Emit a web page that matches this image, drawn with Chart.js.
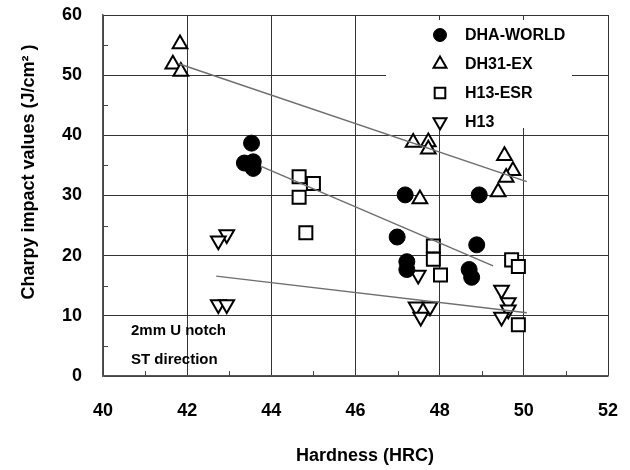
<!DOCTYPE html>
<html>
<head>
<meta charset="utf-8">
<script src="https://cdn.jsdelivr.net/npm/chart.js@4.4.1/dist/chart.umd.min.js"></script>
<style>
  html, body { margin: 0; padding: 0; background: #fff; }
  #wrap { width: 630px; height: 470px; }
</style>
</head>
<body>
<div id="wrap"><canvas id="chart"></canvas></div>
<script>
// values (hardness HRC, impact J/cm2)
const dhaWorldX = [43.53, 43.36, 43.57, 43.57, 47.18, 46.99, 47.22, 47.22, 48.94, 48.88, 48.70, 48.76];
const dhaWorldY = [38.7, 35.4, 35.6, 34.5, 30.1, 23.1, 19.0, 17.7, 30.1, 21.8, 17.7, 16.4];

const dh31X = [41.83, 41.66, 41.85, 47.37, 47.73, 47.73, 47.53, 49.54, 49.74, 49.58, 49.39];
const dh31Y = [55.2, 51.8, 50.6, 38.8, 38.9, 37.7, 29.4, 36.6, 34.1, 33.0, 30.6];

const h13EsrX = [44.66, 45.00, 44.66, 44.82, 47.85, 47.85, 48.02, 49.71, 49.87, 49.87];
const h13EsrY = [33.1, 32.0, 29.7, 23.8, 21.6, 19.4, 16.8, 19.3, 18.2, 8.5];

const h13X = [42.94, 42.74, 42.74, 42.94, 47.49, 47.44, 47.77, 47.55, 49.47, 49.63, 49.63, 49.47];
const h13Y = [23.5, 22.5, 11.9, 11.9, 16.8, 11.5, 11.5, 9.8, 14.3, 12.2, 11.0, 9.8];

// trend line end points
const trendDh31X = [41.8, 50.07];
const trendDh31Y = [51.9, 32.3];
const trendDhaX = [43.77, 49.27];
const trendDhaY = [34.8, 18.3];
const trendH13X = [42.69, 50.07];
const trendH13Y = [16.6, 10.5];

const xTicks = [40, 42, 44, 46, 48, 50, 52];
const yTicks = [0, 10, 20, 30, 40, 50, 60];
const xMinor = [41, 43, 45, 47, 49, 51];
const yMinor = [5, 15, 25, 35, 45, 55];

const seriesNames = ['DHA-WORLD', 'DH31-EX', 'H13-ESR', 'H13'];
const noteLines = ['2mm U notch', 'ST direction'];
const xTitle = 'Hardness (HRC)';
const yTitle = 'Charpy impact values (J/cm² )';

const FONT = '"Liberation Sans", Arial, sans-serif';

const pts = (xs, ys) => xs.map((x, i) => ({ x: x, y: ys[i] }));

const markerStyles = [
  { pointStyle: 'circle', radius: 8, rotation: 0, backgroundColor: '#000', borderColor: '#000', borderWidth: 1 },
  { pointStyle: 'triangle', radius: 8.5, rotation: 0, backgroundColor: '#fff', borderColor: '#000', borderWidth: 2 },
  { pointStyle: 'rect', radius: 9.2, rotation: 0, backgroundColor: '#fff', borderColor: '#000', borderWidth: 2 },
  { pointStyle: 'triangle', radius: 8.5, rotation: 180, backgroundColor: '#fff', borderColor: '#000', borderWidth: 2 }
];

const scatterSet = (label, data, m, order) => ({
  type: 'scatter',
  label: label,
  data: data,
  order: order,
  pointStyle: m.pointStyle,
  pointRadius: m.radius,
  pointHoverRadius: m.radius,
  pointRotation: m.rotation,
  pointBackgroundColor: m.backgroundColor,
  pointBorderColor: m.borderColor,
  pointBorderWidth: m.borderWidth,
  showLine: false
});

const trendSet = (data) => ({
  type: 'line',
  label: '',
  data: data,
  order: 0,
  borderColor: '#6e6e6e',
  borderWidth: 1.5,
  pointRadius: 0,
  fill: false,
  tension: 0
});

// minor ticks, legend box, note text and axis titles
const extrasPlugin = {
  id: 'extras',
  beforeDatasetsDraw(chart) {
    const ctx = chart.ctx;
    const xs = chart.scales.x;
    const ys = chart.scales.y;
    const area = chart.chartArea;
    ctx.save();
    ctx.strokeStyle = '#444';
    ctx.lineWidth = 1;
    xMinor.forEach(v => {
      const px = Math.round(xs.getPixelForValue(v)) + 0.5;
      ctx.beginPath();
      ctx.moveTo(px, area.bottom);
      ctx.lineTo(px, area.bottom - 5);
      ctx.stroke();
    });
    yMinor.forEach(v => {
      const py = Math.round(ys.getPixelForValue(v)) + 0.5;
      ctx.beginPath();
      ctx.moveTo(area.left, py);
      ctx.lineTo(area.left + 5, py);
      ctx.stroke();
    });

    // legend box (white, hides the grid behind it)
    ctx.fillStyle = '#fff';
    ctx.fillRect(386, 20, 186, 108);
    ctx.font = 'bold 16px ' + FONT;
    ctx.textBaseline = 'middle';
    ctx.textAlign = 'left';
    seriesNames.forEach((name, i) => {
      const y = 35 + i * 29;
      const m = markerStyles[i];
      ctx.fillStyle = m.backgroundColor;
      ctx.strokeStyle = m.borderColor;
      ctx.lineWidth = m.borderWidth;
      Chart.helpers.drawPoint(ctx, {
        pointStyle: m.pointStyle,
        radius: m.pointStyle === 'circle' ? 6.5 : 7.5,
        rotation: m.rotation,
        borderWidth: m.borderWidth
      }, 440, y);
      ctx.fillStyle = '#000';
      ctx.fillText(name, 465, y + 1);
    });

    ctx.font = 'bold 15px ' + FONT;
    ctx.fillStyle = '#000';
    noteLines.forEach((t, i) => {
      ctx.fillText(t, 131, 331 + i * 29);
    });
    ctx.restore();
  },
  afterDraw(chart) {
    const ctx = chart.ctx;
    ctx.save();
    ctx.fillStyle = '#000';
    ctx.font = 'bold 18px ' + FONT;
    ctx.textAlign = 'center';
    ctx.textBaseline = 'middle';
    ctx.fillText(xTitle, 365, 456);
    ctx.translate(29, 172);
    ctx.rotate(-Math.PI / 2);
    ctx.fillText(yTitle, 0, 0);
    ctx.restore();
  }
};

const ctx = document.getElementById('chart').getContext('2d');
new Chart(ctx, {
  data: {
    datasets: [
      scatterSet(seriesNames[0], pts(dhaWorldX, dhaWorldY), markerStyles[0], 1),
      scatterSet(seriesNames[1], pts(dh31X, dh31Y), markerStyles[1], 2),
      scatterSet(seriesNames[2], pts(h13EsrX, h13EsrY), markerStyles[2], 3),
      scatterSet(seriesNames[3], pts(h13X, h13Y), markerStyles[3], 4),
      trendSet(pts(trendDh31X, trendDh31Y)),
      trendSet(pts(trendDhaX, trendDhaY)),
      trendSet(pts(trendH13X, trendH13Y))
    ]
  },
  options: {
    responsive: true,
    maintainAspectRatio: false,
    animation: false,
    layout: { padding: { top: 15, right: 22, bottom: 0, left: 0 } },
    plugins: {
      legend: { display: false },
      tooltip: { enabled: false }
    },
    scales: {
      x: {
        type: 'linear',
        min: 40,
        max: 52,
        afterBuildTicks: (scale) => { scale.ticks = xTicks.map(v => ({ value: v })); },
        afterFit: (scale) => { scale.height = 94; },
        ticks: {
          color: '#000',
          padding: 0,
          maxRotation: 0,
          font: { family: FONT, size: 18, weight: 'bold' }
        },
        grid: { color: '#333', lineWidth: 1, drawTicks: true, tickLength: 24, tickColor: 'rgba(0,0,0,0)' },
        border: { color: '#555', width: 1.5 }
      },
      y: {
        type: 'linear',
        min: 0,
        max: 60,
        afterBuildTicks: (scale) => { scale.ticks = yTicks.map(v => ({ value: v })); },
        afterFit: (scale) => { scale.width = 103; },
        ticks: {
          color: '#000',
          padding: 0,
          font: { family: FONT, size: 18, weight: 'bold' }
        },
        grid: { color: '#333', lineWidth: 1, drawTicks: true, tickLength: 21, tickColor: 'rgba(0,0,0,0)' },
        border: { color: '#555', width: 1.5 }
      }
    }
  },
  plugins: [extrasPlugin]
});
</script>
</body>
</html>
